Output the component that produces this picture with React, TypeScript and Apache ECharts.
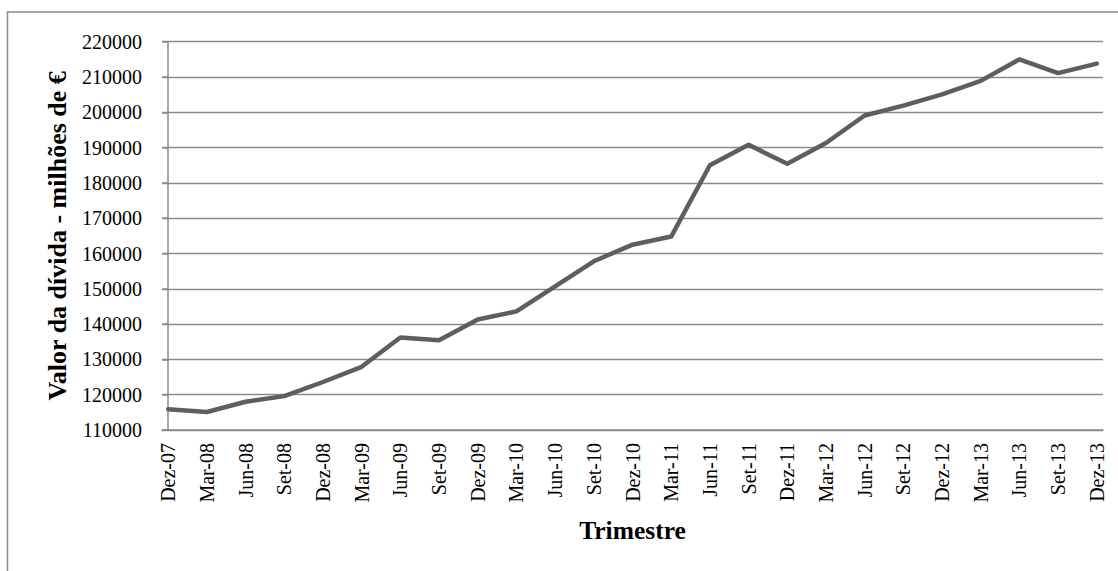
import React, { useEffect, useRef } from "react";
import * as echarts from "echarts";

const categories: string[] = [
  "Dez-07", "Mar-08", "Jun-08", "Set-08", "Dez-08", "Mar-09", "Jun-09", "Set-09",
  "Dez-09", "Mar-10", "Jun-10", "Set-10", "Dez-10", "Mar-11", "Jun-11", "Set-11",
  "Dez-11", "Mar-12", "Jun-12", "Set-12", "Dez-12", "Mar-13", "Jun-13", "Set-13", "Dez-13",
];

const debtValues: number[] = [
  115900, 115100, 118000, 119600, 123600, 127900, 136200, 135400,
  141300, 143600, 150700, 157800, 162500, 164800, 185000, 190800,
  185400, 191300, 199100, 201900, 205100, 208900, 215000, 211100, 213800,
];

const yTicks = { min: 110000, max: 220000, interval: 10000 };

const FONT = "'Liberation Serif', 'Times New Roman', serif";

export default function App() {
  const ref = useRef<HTMLDivElement>(null);
  useEffect(() => {
    if (!ref.current) return;
    const chart = echarts.init(ref.current, null, { renderer: "svg" });
    const idx = categories.map((_, i) => i);
    chart.setOption({
      animation: false,
      backgroundColor: "#ffffff",
      textStyle: { fontFamily: FONT },
      graphic: [
        {
          type: "rect",
          shape: { x: 7.5, y: 12, width: 1200, height: 700 },
          style: { fill: "none", stroke: "#8a8a8a", lineWidth: 1.5 },
          silent: true,
        },
      ],
      grid: { left: 162, right: 15, top: 41.7, bottom: 141, containLabel: false },
      xAxis: {
        type: "value",
        min: -0.16,
        max: categories.length - 1 + 0.16,
        name: "Trimestre",
        nameLocation: "middle",
        nameGap: 87,
        nameTextStyle: { fontFamily: FONT, fontSize: 25.5, fontWeight: "bold", color: "#000" },
        axisLine: { show: true, onZero: false, lineStyle: { color: "#8a8a8a", width: 1.5 } },
        axisTick: { show: false },
        splitLine: { show: false },
        axisLabel: {
          customValues: idx,
          rotate: 90,
          margin: 13,
          fontFamily: FONT,
          fontSize: 20,
          color: "#000",
          formatter: (v: number) => categories[Math.round(v)] ?? "",
        },
      },
      yAxis: {
        type: "value",
        min: yTicks.min,
        max: yTicks.max,
        interval: yTicks.interval,
        name: "Valor da dívida - milhões de €",
        nameLocation: "middle",
        nameRotate: 90,
        nameGap: 92,
        nameTextStyle: { fontFamily: FONT, fontSize: 26, fontWeight: "bold", color: "#000" },
        axisLine: { show: true, lineStyle: { color: "#8a8a8a", width: 1.5 } },
        axisTick: { show: true, length: 6, lineStyle: { color: "#8a8a8a", width: 1.5 } },
        splitLine: { show: true, lineStyle: { color: "#8a8a8a", width: 1.3 } },
        axisLabel: {
          fontFamily: FONT,
          fontSize: 20,
          color: "#000",
          margin: 20,
          formatter: (v: number) => String(v),
        },
      },
      series: [
        {
          type: "line",
          data: debtValues.map((v, i) => [i, v]),
          showSymbol: false,
          symbol: "none",
          lineStyle: { color: "#5e5e5e", width: 4.5, cap: "round", join: "round" },
        },
      ],
    });
    return () => chart.dispose();
  }, []);
  return (
    <div
      ref={ref}
      style={{ position: "fixed", left: 0, top: 0, width: 1118, height: 571, background: "#fff" }}
    />
  );
}
